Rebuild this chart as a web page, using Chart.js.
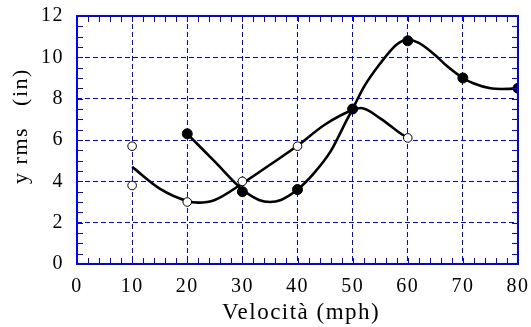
<!DOCTYPE html>
<html>
<head>
<meta charset="utf-8">
<script src="https://cdn.jsdelivr.net/npm/chart.js@4"></script>
<style>
  html, body { margin: 0; padding: 0; background: #fff; }
  #wrap { width: 531px; height: 327px; }
</style>
</head>
<body>
<div id="wrap"><canvas id="chart" width="531" height="327"></canvas></div>
<script>
'use strict';

// measured points
const openX = [10, 10, 20, 30, 40, 50, 60];
const openY = [5.7, 3.8, 3.0, 4.0, 5.7, 7.5, 6.1];
const filledX = [20, 30, 40, 50, 60, 70, 80];
const filledY = [6.3, 3.5, 3.6, 7.5, 10.8, 9.0, 8.5];

// fitted curves
const openCurveX = [10, 15, 20, 22, 25, 30, 35, 40, 45, 50, 51.5, 55, 58.5, 60];
const openCurveY = [4.7, 3.65, 3.05, 2.97, 3.1, 3.9, 4.8, 5.72, 6.75, 7.45, 7.55, 7.05, 6.35, 6.1];
const filledCurveX = [20, 25, 30, 33, 35, 37, 40, 43, 46, 49, 50, 52, 55, 58, 60, 62, 65, 67, 70, 72, 75, 77, 80];
const filledCurveY = [6.3, 4.95, 3.6, 3.1, 3.0, 3.1, 3.6, 4.4, 5.45, 7.0, 7.5, 8.55, 9.7, 10.62, 10.85, 10.7, 10.1, 9.6, 9.0, 8.73, 8.5, 8.47, 8.5];

// axes
const xMin = 0, xMax = 80, xStep = 10, xMinor = 2;
const yMin = 0, yMax = 12, yStep = 2, yMinor = 0.5;

const pts = (xs, ys) => xs.map((x, i) => ({ x: x, y: ys[i] }));
const blue = '#0000ff';
const serif = "'Liberation Serif', 'DejaVu Serif', serif";

// the reference text is set a little loose
const spacing = {
  id: 'spacing',
  beforeDraw(chart) { chart.ctx.letterSpacing = '1.5px'; }
};

// frame + inner minor ticks on all four sides
const frame = {
  id: 'frame',
  afterDatasetsDraw(chart) {
    const ctx = chart.ctx;
    const a = chart.chartArea;
    const sx = chart.scales.x, sy = chart.scales.y;
    const len = 6;
    ctx.save();
    ctx.strokeStyle = blue;
    ctx.lineWidth = 1;
    ctx.beginPath();
    for (let v = xMin; v <= xMax; v += xMinor) {
      const px = Math.round(sx.getPixelForValue(v)) + 0.5;
      ctx.moveTo(px, a.bottom); ctx.lineTo(px, a.bottom - len);
      ctx.moveTo(px, a.top); ctx.lineTo(px, a.top + len);
    }
    for (let v = yMin; v <= yMax; v += yMinor) {
      const py = Math.round(sy.getPixelForValue(v)) + 0.5;
      ctx.moveTo(a.left, py); ctx.lineTo(a.left + len, py);
      ctx.moveTo(a.right, py); ctx.lineTo(a.right - len, py);
    }
    ctx.stroke();
    ctx.lineWidth = 2;
    ctx.strokeRect(a.left, a.top, a.right - a.left, a.bottom - a.top);
    ctx.restore();
  }
};

new Chart(document.getElementById('chart'), {
  type: 'scatter',
  data: {
    datasets: [{
      data: pts(filledX, filledY),
      pointRadius: 5,
      pointBackgroundColor: '#000',
      pointBorderColor: '#000',
      showLine: false,
      order: 0
    }, {
      data: pts(openX, openY),
      pointRadius: 4.3,
      pointBackgroundColor: '#fff',
      pointBorderColor: '#000',
      pointBorderWidth: 1,
      showLine: false,
      order: 1
    }, {
      data: pts(openCurveX, openCurveY),
      showLine: true,
      pointRadius: 0,
      borderColor: '#000',
      borderWidth: 2.6,
      cubicInterpolationMode: 'monotone',
      order: 2
    }, {
      data: pts(filledCurveX, filledCurveY),
      showLine: true,
      pointRadius: 0,
      borderColor: '#000',
      borderWidth: 2.6,
      cubicInterpolationMode: 'monotone',
      order: 2
    }]
  },
  options: {
    responsive: false,
    animation: false,
    layout: { padding: { top: 16, right: 13, left: 0, bottom: 0 } },
    plugins: { legend: { display: false }, tooltip: { enabled: false } },
    scales: {
      x: {
        type: 'linear',
        min: xMin, max: xMax,
        ticks: { stepSize: xStep, color: '#000', font: { family: serif, size: 20 }, padding: 11 },
        grid: { color: blue, lineWidth: 1, drawTicks: false, tickLength: 0 },
        border: { display: false, dash: [5, 3] },
        title: { display: true, text: ' Velocità (mph)', color: '#000', font: { family: serif, size: 23 }, padding: { top: 0, bottom: 0 } },
        afterFit(scale) { scale.height = 63; scale.paddingLeft = 0; scale.paddingRight = 0; }
      },
      y: {
        min: yMin, max: yMax,
        ticks: { stepSize: yStep, color: '#000', font: { family: serif, size: 20 }, padding: 13 },
        grid: { color: blue, lineWidth: 1, drawTicks: false, tickLength: 0 },
        border: { display: false, dash: [5, 3] },
        title: { display: true, text: '    y rms   (in)', color: '#000', font: { family: serif, size: 22 }, padding: { top: 8, bottom: 0 } },
        afterFit(scale) { scale.width = 77; scale.paddingTop = 0; scale.paddingBottom = 0; }
      }
    }
  },
  plugins: [spacing, frame]
});
</script>
</body>
</html>
